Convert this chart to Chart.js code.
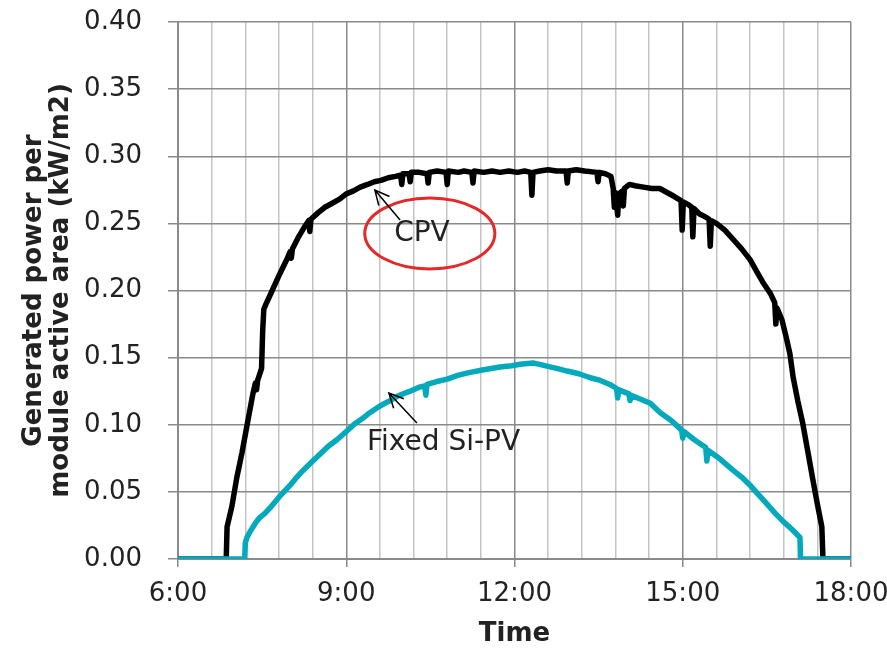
<!DOCTYPE html>
<html>
<head>
<meta charset="utf-8">
<script src="https://cdn.jsdelivr.net/npm/chart.js@4/dist/chart.umd.min.js"></script>
<style>
  html, body { margin: 0; padding: 0; background: #fff; }
  #wrap { width: 887px; height: 649px; }
</style>
</head>
<body>
<div id="wrap"><canvas id="chart" width="887" height="649"></canvas></div>
<script>
// time of day in decimal hours, power in kW/m2
const cpvHours = [6.00, 6.86, 6.875, 6.96, 7.05, 7.14, 7.25, 7.34, 7.38, 7.40, 7.42, 7.46, 7.49, 7.51, 7.53, 7.57, 7.68, 7.80, 7.95, 8.00, 8.02, 8.04, 8.15, 8.25, 8.33, 8.35, 8.37, 8.50, 8.62, 8.75, 8.88, 9.00, 9.12, 9.25, 9.38, 9.50, 9.62, 9.75, 9.88, 9.97, 9.99, 10.01, 10.12, 10.14, 10.16, 10.30, 10.44, 10.46, 10.48, 10.62, 10.78, 10.80, 10.82, 11.00, 11.10, 11.24, 11.26, 11.28, 11.45, 11.60, 11.74, 11.90, 12.05, 12.18, 12.29, 12.31, 12.33, 12.45, 12.60, 12.75, 12.92, 12.94, 12.96, 13.10, 13.25, 13.47, 13.49, 13.51, 13.62, 13.72, 13.76, 13.78, 13.80, 13.84, 13.86, 13.92, 13.94, 13.96, 14.05, 14.15, 14.30, 14.45, 14.59, 14.72, 14.85, 14.97, 14.99, 15.01, 15.10, 15.16, 15.18, 15.20, 15.30, 15.40, 15.47, 15.49, 15.51, 15.60, 15.75, 15.90, 16.05, 16.20, 16.32, 16.43, 16.56, 16.64, 16.66, 16.68, 16.77, 16.84, 16.91, 16.97, 17.05, 17.14, 17.23, 17.32, 17.40, 17.48, 17.50, 18.00];
const cpvPower = [0, 0, 0.024, 0.039, 0.061, 0.079, 0.104, 0.124, 0.131, 0.126, 0.133, 0.138, 0.142, 0.170, 0.186, 0.190, 0.200, 0.211, 0.224, 0.229, 0.224, 0.231, 0.240, 0.247, 0.252, 0.244, 0.253, 0.258, 0.262, 0.265, 0.268, 0.272, 0.274, 0.277, 0.279, 0.281, 0.282, 0.284, 0.285, 0.286, 0.279, 0.287, 0.287, 0.281, 0.288, 0.288, 0.287, 0.280, 0.288, 0.289, 0.288, 0.279, 0.289, 0.288, 0.289, 0.288, 0.280, 0.289, 0.288, 0.289, 0.288, 0.289, 0.288, 0.289, 0.288, 0.271, 0.288, 0.289, 0.290, 0.289, 0.289, 0.280, 0.289, 0.290, 0.289, 0.288, 0.281, 0.288, 0.287, 0.285, 0.276, 0.262, 0.273, 0.256, 0.272, 0.274, 0.263, 0.276, 0.279, 0.278, 0.277, 0.276, 0.276, 0.273, 0.270, 0.267, 0.245, 0.266, 0.264, 0.262, 0.240, 0.261, 0.257, 0.255, 0.253, 0.233, 0.252, 0.250, 0.245, 0.238, 0.231, 0.223, 0.214, 0.206, 0.198, 0.191, 0.175, 0.187, 0.178, 0.166, 0.153, 0.135, 0.118, 0.101, 0.080, 0.059, 0.041, 0.024, 0, 0];

const siHours = [6.00, 7.19, 7.20, 7.23, 7.28, 7.34, 7.40, 7.46, 7.55, 7.64, 7.80, 8.00, 8.12, 8.23, 8.38, 8.53, 8.68, 8.84, 9.00, 9.16, 9.30, 9.42, 9.60, 9.78, 9.95, 10.14, 10.30, 10.40, 10.42, 10.44, 10.60, 10.80, 11.00, 11.21, 11.45, 11.74, 11.95, 12.10, 12.33, 12.45, 12.54, 12.75, 12.94, 13.15, 13.35, 13.53, 13.70, 13.82, 13.84, 13.86, 14.04, 14.06, 14.08, 14.25, 14.42, 14.60, 14.80, 14.98, 15.00, 15.02, 15.20, 15.41, 15.43, 15.45, 15.65, 15.90, 16.05, 16.20, 16.35, 16.50, 16.65, 16.79, 16.95, 17.09, 17.10, 18.00];
const siPower = [0, 0, 0.012, 0.016, 0.020, 0.024, 0.028, 0.031, 0.034, 0.038, 0.046, 0.055, 0.061, 0.066, 0.072, 0.078, 0.084, 0.089, 0.095, 0.101, 0.105, 0.109, 0.114, 0.118, 0.122, 0.125, 0.128, 0.129, 0.122, 0.130, 0.132, 0.134, 0.137, 0.139, 0.141, 0.143, 0.144, 0.145, 0.146, 0.145, 0.144, 0.142, 0.140, 0.138, 0.135, 0.133, 0.130, 0.127, 0.120, 0.126, 0.123, 0.118, 0.122, 0.119, 0.116, 0.109, 0.103, 0.096, 0.090, 0.095, 0.089, 0.083, 0.073, 0.081, 0.075, 0.066, 0.061, 0.055, 0.048, 0.041, 0.034, 0.028, 0.022, 0.016, 0, 0];

const xMin = 6, xMax = 18, xGridStep = 0.6, xLabelStep = 3;
const yMin = 0, yMax = 0.4, yStep = 0.05;

const toPoints = (xs, ys) => xs.map((x, i) => ({ x: x, y: ys[i] }));
const isMajor = v => Math.abs(v / xLabelStep - Math.round(v / xLabelStep)) < 1e-6;

// labels, arrows and the red ring, placed in data units
const notes = {
  ring: { x: 10.49, y: 0.2425, rx: 1.16, ry: 0.0264 },
  cpvText: { x: 10.35, y: 0.2425, text: 'CPV' },
  cpvArrow: { x1: 9.96, y1: 0.2525, x2: 9.51, y2: 0.2749 },
  siText: { x: 9.37, y: 0.0864, text: 'Fixed Si-PV' },
  siArrow: { x1: 10.26, y1: 0.1013, x2: 9.76, y2: 0.1237 }
};

const notesPlugin = {
  id: 'notes',
  afterDatasetsDraw(chart) {
    const { ctx } = chart;
    const sx = chart.scales.x, sy = chart.scales.y;
    const px = v => sx.getPixelForValue(v), py = v => sy.getPixelForValue(v);
    ctx.save();

    const r = notes.ring;
    ctx.strokeStyle = '#e32a2a';
    ctx.lineWidth = 3;
    ctx.beginPath();
    ctx.ellipse(px(r.x), py(r.y), px(r.x + r.rx) - px(r.x), py(r.y) - py(r.y + r.ry), 0, 0, Math.PI * 2);
    ctx.stroke();

    ctx.fillStyle = '#222';
    ctx.font = '28px "DejaVu Sans"';
    ctx.textBaseline = 'middle';
    ctx.textAlign = 'center';
    ctx.fillText(notes.cpvText.text, px(notes.cpvText.x), py(notes.cpvText.y));
    ctx.textAlign = 'left';
    ctx.fillText(notes.siText.text, px(notes.siText.x), py(notes.siText.y));

    ctx.strokeStyle = '#000';
    ctx.lineWidth = 1.5;
    [notes.cpvArrow, notes.siArrow].forEach(a => {
      const x1 = px(a.x1), y1 = py(a.y1), x2 = px(a.x2), y2 = py(a.y2);
      const ang = Math.atan2(y2 - y1, x2 - x1);
      const head = 16, spread = 0.45;
      ctx.beginPath();
      ctx.moveTo(x1, y1);
      ctx.lineTo(x2, y2);
      ctx.moveTo(x2 - head * Math.cos(ang - spread), y2 - head * Math.sin(ang - spread));
      ctx.lineTo(x2, y2);
      ctx.lineTo(x2 - head * Math.cos(ang + spread), y2 - head * Math.sin(ang + spread));
      ctx.stroke();
    });
    ctx.restore();
  }
};

new Chart(document.getElementById('chart').getContext('2d'), {
  type: 'line',
  data: {
    datasets: [{
      label: 'CPV',
      data: toPoints(cpvHours, cpvPower),
      borderColor: '#000',
      borderWidth: 5.5,
      order: 2
    }, {
      label: 'Fixed Si-PV',
      data: toPoints(siHours, siPower),
      borderColor: '#05a9bc',
      borderWidth: 5.5,
      order: 1
    }]
  },
  options: {
    responsive: false,
    animation: false,
    layout: { padding: { top: 22, right: 36, left: 0, bottom: 0 } },
    elements: {
      point: { radius: 0 },
      line: { tension: 0, borderJoinStyle: 'round', borderCapStyle: 'round' }
    },
    plugins: { legend: { display: false }, tooltip: { enabled: false } },
    scales: {
      x: {
        type: 'linear',
        min: xMin,
        max: xMax,
        afterFit: s => { s.height = 90; s.paddingLeft = 0; s.paddingRight = 0; },
        afterBuildTicks: s => {
          const ticks = [];
          for (let i = 0; i <= Math.round((xMax - xMin) / xGridStep); i++) ticks.push({ value: xMin + i * xGridStep });
          s.ticks = ticks;
        },
        grid: {
          color: c => isMajor(c.tick.value) ? '#8a8a8a' : '#c4c4c4',
          lineWidth: 1.5,
          tickLength: 8,
          tickColor: c => isMajor(c.tick.value) ? '#8a8a8a' : 'rgba(0,0,0,0)'
        },
        border: { color: '#8a8a8a', width: 2 },
        ticks: {
          autoSkip: false,
          maxRotation: 0,
          padding: 12,
          color: '#222',
          font: { family: 'DejaVu Sans', size: 26 },
          callback: v => isMajor(v) ? Math.round(v) + ':00' : ''
        },
        title: {
          display: true,
          text: 'Time',
          color: '#222',
          font: { family: 'DejaVu Sans', size: 26, weight: 'bold', lineHeight: 1 },
          padding: { top: 0, bottom: 2 }
        }
      },
      y: {
        min: yMin,
        max: yMax,
        afterFit: s => { s.width = 178; s.paddingTop = 0; s.paddingBottom = 0; },
        grid: { color: '#8a8a8a', lineWidth: 1.5, tickLength: 10 },
        border: { color: '#8a8a8a', width: 2 },
        ticks: {
          stepSize: yStep,
          padding: 26,
          color: '#222',
          font: { family: 'DejaVu Sans', size: 26 },
          callback: v => v.toFixed(2)
        },
        title: {
          display: true,
          text: ['Generated power per', 'module active area (kW/m2)'],
          color: '#222',
          font: { family: 'DejaVu Sans', size: 26, weight: 'bold', lineHeight: 1.04 },
          padding: { top: 21, bottom: 0 }
        }
      }
    }
  },
  plugins: [notesPlugin]
});
</script>
</body>
</html>
